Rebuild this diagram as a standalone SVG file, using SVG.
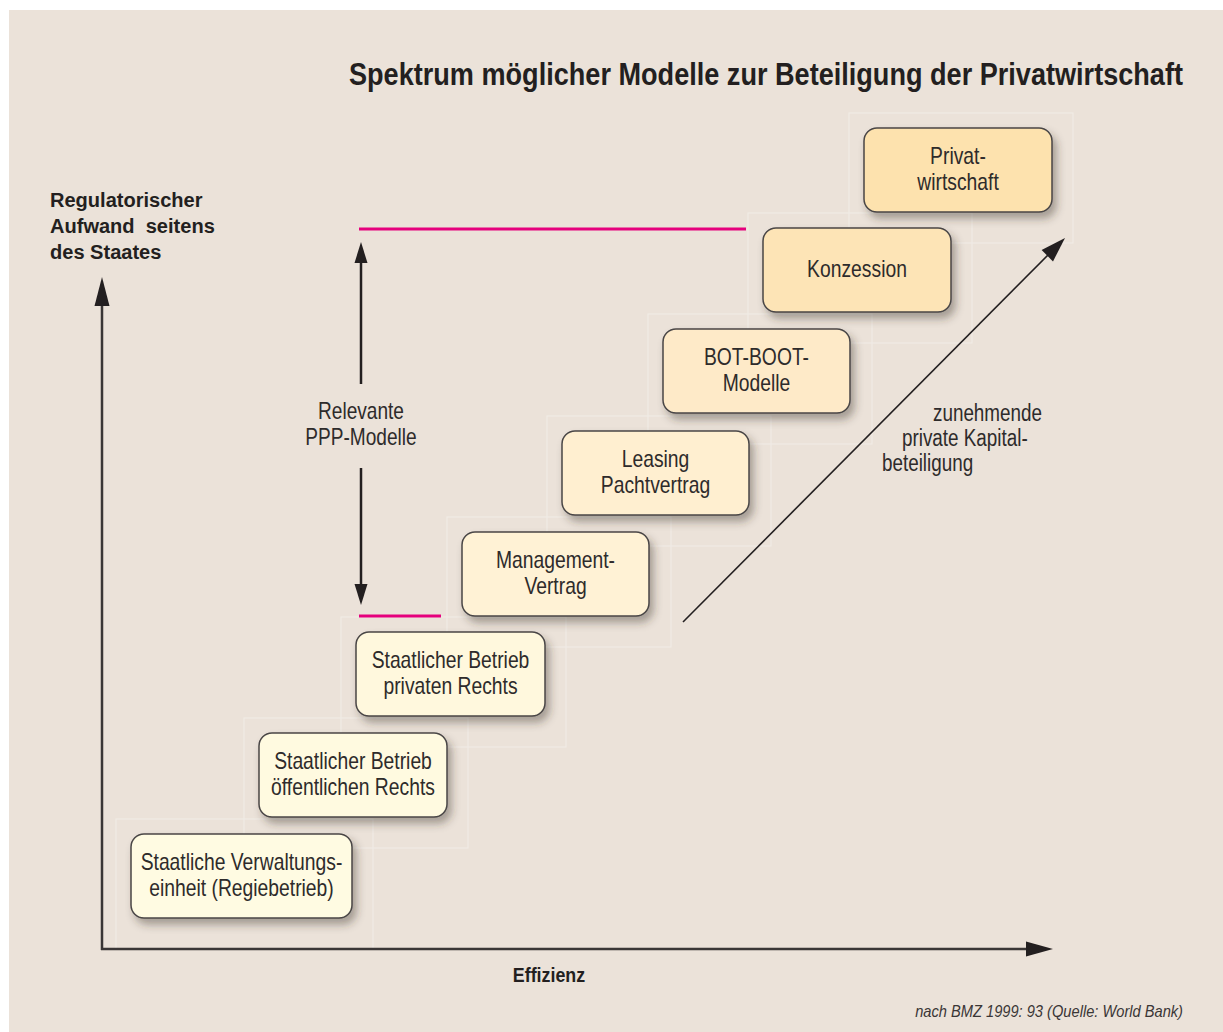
<svg xmlns="http://www.w3.org/2000/svg" width="1223" height="1032" viewBox="0 0 1223 1032">
<defs>
<filter id="sh" x="-20%" y="-20%" width="150%" height="160%">
<feDropShadow dx="4" dy="6" stdDeviation="4.5" flood-color="#3a3028" flood-opacity="0.4"/>
</filter>
</defs>
<style>
.bg{fill:#ebe2d9}
.halo{fill:none;stroke:#f1ebe4;stroke-width:1.2}
.box{stroke:#4a4646;stroke-width:1.5;filter:url(#sh)}
.t{font-family:"Liberation Sans",Arial,sans-serif;font-size:23px;fill:#2e2b2b;text-anchor:middle}
.tl{font-family:"Liberation Sans",Arial,sans-serif;font-size:23px;fill:#2e2b2b}
.b{font-family:"Liberation Sans",Arial,sans-serif;font-weight:bold;fill:#231f20}
.pink{stroke:#e5007d;stroke-width:3}
.ax{stroke:#3a3636;stroke-width:2.5;fill:none}
.ah{fill:#231f20}
</style>
<rect x="0" y="0" width="1223" height="1032" fill="#ffffff"/>
<rect class="bg" x="9" y="10" width="1214" height="1022"/>

<text class="b" font-size="31" transform="translate(349,85) scale(0.874,1)">Spektrum möglicher Modelle zur Beteiligung der Privatwirtschaft</text>

<g id="ylabel">
<text class="b" font-size="21" transform="translate(50,207) scale(0.955,1)">Regulatorischer</text>
<text class="b" font-size="21" transform="translate(50,233) scale(0.955,1)" xml:space="preserve">Aufwand  seitens</text>
<text class="b" font-size="21" transform="translate(50,259) scale(0.955,1)">des Staates</text>
</g>
<text id="xlabel" class="b" font-size="21" text-anchor="middle" transform="translate(549,982) scale(0.85,1)">Effizienz</text>

<g id="halos">
<rect class="halo" x="116" y="819" width="257" height="130"/>
<rect class="halo" x="244" y="718" width="224" height="130"/>
<rect class="halo" x="341" y="617" width="225" height="130"/>
<rect class="halo" x="447" y="517" width="224" height="130"/>
<rect class="halo" x="547" y="416" width="224" height="130"/>
<rect class="halo" x="648" y="314" width="224" height="130"/>
<rect class="halo" x="748" y="213" width="224" height="130"/>
<rect class="halo" x="849" y="113" width="224" height="130"/>
</g>

<g id="connectors">
<line class="ax" x1="102" y1="950" x2="102" y2="300"/>
<polygon class="ah" points="102,277 109.5,306 94.5,306"/>
<line class="ax" x1="101" y1="949" x2="1030" y2="949"/>
<polygon class="ah" points="1053,949 1026,941.5 1026,956.5"/>
<line class="pink" x1="359" y1="229" x2="746" y2="229"/>
<line class="pink" x1="359" y1="616" x2="441" y2="616"/>
<line stroke="#231f20" stroke-width="2.5" x1="361" y1="260" x2="361" y2="384"/>
<polygon class="ah" points="361,242 367.5,263 354.5,263"/>
<line stroke="#231f20" stroke-width="2.5" x1="361" y1="468" x2="361" y2="588"/>
<polygon class="ah" points="361,605 367.5,584 354.5,584"/>
<line stroke="#231f20" stroke-width="1.6" x1="683" y1="622" x2="1050" y2="253"/>
<polygon class="ah" points="1065,238 1053,261.4 1041.6,250"/>
</g>

<g id="n1"><rect class="box" x="131" y="834" width="221" height="84" rx="13" fill="#fffbe2"/>
<text class="t" transform="translate(241.5,870) scale(0.84,1)">Staatliche Verwaltungs-</text><text class="t" transform="translate(241.5,896) scale(0.84,1)">einheit (Regiebetrieb)</text></g>
<g id="n2"><rect class="box" x="259" y="733" width="188" height="84" rx="13" fill="#fffae0"/>
<text class="t" transform="translate(353,769) scale(0.84,1)">Staatlicher Betrieb</text><text class="t" transform="translate(353,795) scale(0.84,1)">öffentlichen Rechts</text></g>
<g id="n3"><rect class="box" x="356" y="632" width="189" height="84" rx="13" fill="#fff8dd"/>
<text class="t" transform="translate(450.5,668) scale(0.84,1)">Staatlicher Betrieb</text><text class="t" transform="translate(450.5,694) scale(0.84,1)">privaten Rechts</text></g>
<g id="n4"><rect class="box" x="462" y="532" width="187" height="84" rx="13" fill="#fff2d5"/>
<text class="t" transform="translate(555.5,568) scale(0.84,1)">Management-</text><text class="t" transform="translate(555.5,594) scale(0.84,1)">Vertrag</text></g>
<g id="n5"><rect class="box" x="562" y="431" width="187" height="84" rx="13" fill="#ffefd0"/>
<text class="t" transform="translate(655.5,467) scale(0.84,1)">Leasing</text><text class="t" transform="translate(655.5,493) scale(0.84,1)">Pachtvertrag</text></g>
<g id="n6"><rect class="box" x="663" y="329" width="187" height="84" rx="13" fill="#feeac8"/>
<text class="t" transform="translate(756.5,365) scale(0.84,1)">BOT-BOOT-</text><text class="t" transform="translate(756.5,391) scale(0.84,1)">Modelle</text></g>
<g id="n7"><rect class="box" x="763" y="228" width="188" height="84" rx="13" fill="#fde4b6"/>
<text class="t" transform="translate(857,277) scale(0.84,1)">Konzession</text></g>
<g id="n8"><rect class="box" x="864" y="128" width="188" height="84" rx="13" fill="#fde2ae"/>
<text class="t" transform="translate(958,164) scale(0.84,1)">Privat-</text><text class="t" transform="translate(958,190) scale(0.84,1)">wirtschaft</text></g>

<g id="ppp-label">
<text class="t" transform="translate(361,419) scale(0.83,1)">Relevante</text>
<text class="t" transform="translate(361,445) scale(0.83,1)">PPP-Modelle</text>
</g>
<g id="diag-label">
<text class="tl" transform="translate(933,421) scale(0.82,1)">zunehmende</text>
<text class="tl" transform="translate(902,446) scale(0.82,1)">private Kapital-</text>
<text class="tl" transform="translate(882,471) scale(0.82,1)">beteiligung</text>
</g>
<text font-family="Liberation Sans, Arial, sans-serif" font-style="italic" font-size="17" fill="#3a3636" text-anchor="end" transform="translate(1183,1017) scale(0.862,1)">nach BMZ 1999: 93 (Quelle: World Bank)</text>
</svg>
